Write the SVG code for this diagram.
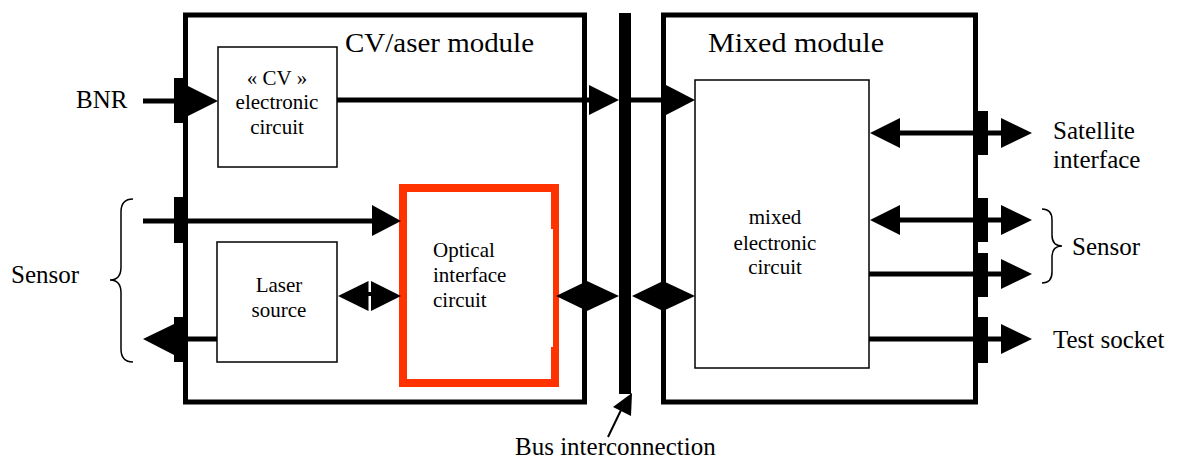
<svg xmlns="http://www.w3.org/2000/svg" width="1179" height="459" viewBox="0 0 1179 459">
<style>
  text { font-family: "Liberation Serif", "Times New Roman", serif; fill: #000; }
  .lbl { font-size: 25px; }
  .box { font-size: 21px; }
  .title { font-size: 27px; }
  .module { fill: none; stroke: #000; stroke-width: 5; }
  .thin { fill: #fff; stroke: #000; stroke-width: 1.5; }
  .wire { stroke: #000; stroke-width: 5; fill: none; }
  .head { fill: #000; }
  .brace { fill: none; stroke: #000; stroke-width: 1.5; }
</style>
<rect width="1179" height="459" fill="#fff"/>

<g id="cv-module">
  <rect class="module" x="185.5" y="15" width="399" height="387"/>
  <text class="title" x="345" y="52" textLength="189" lengthAdjust="spacingAndGlyphs">CV/aser module</text>
</g>
<g id="mixed-module">
  <rect class="module" x="663.5" y="15" width="312" height="387"/>
  <text class="title" x="708" y="52" textLength="176" lengthAdjust="spacingAndGlyphs">Mixed module</text>
</g>
<g id="bus">
  <rect x="619" y="13" width="12" height="381" fill="#000"/>
</g>
<g id="cv-circuit">
  <rect class="thin" x="218" y="47" width="119" height="120"/>
  <text class="box" x="277" y="85" text-anchor="middle">« CV »</text>
  <text class="box" x="277" y="109" text-anchor="middle">electronic</text>
  <text class="box" x="277" y="134" text-anchor="middle">circuit</text>
</g>
<g id="laser-source">
  <rect class="thin" x="217" y="242" width="120" height="120"/>
  <text class="box" x="279" y="292" text-anchor="middle">Laser</text>
  <text class="box" x="279" y="317" text-anchor="middle">source</text>
</g>
<g id="optical-circuit">
  <rect x="403" y="188" width="152" height="195" fill="#fff" stroke="#ff3300" stroke-width="8"/>
  <rect x="551" y="229" width="2" height="118" fill="#fff"/>
  <text class="box" x="433" y="257">Optical</text>
  <text class="box" x="433" y="282">interface</text>
  <text class="box" x="433" y="307">circuit</text>
</g>
<g id="mixed-circuit">
  <rect class="thin" x="695" y="80" width="174" height="288"/>
  <text class="box" x="775" y="224" text-anchor="middle">mixed</text>
  <text class="box" x="775" y="250" text-anchor="middle">electronic</text>
  <text class="box" x="775" y="274" text-anchor="middle">circuit</text>
</g>

<g id="labels">
  <text class="lbl" x="76" y="108">BNR</text>
  <text class="lbl" x="11" y="283">Sensor</text>
  <path class="brace" d="M133,199 Q121,199 121,212 L121,267 Q121,280 110,280 Q121,280 121,293 L121,349 Q121,362 133,362"/>
  <text class="lbl" x="1053" y="139">Satellite</text>
  <text class="lbl" x="1053" y="168">interface</text>
  <text class="lbl" x="1072" y="255">Sensor</text>
  <path class="brace" d="M1042,209 Q1052,209 1052,220 L1052,235 Q1052,246 1062,246 Q1052,246 1052,257 L1052,272 Q1052,283 1042,283"/>
  <text class="lbl" x="1053" y="348">Test socket</text>
  <text class="lbl" x="515" y="455">Bus interconnection</text>
</g>

<g id="connectors">
  <!-- connector blocks on module edges -->
  <rect class="head" x="174" y="78" width="12" height="45"/>
  <rect class="head" x="174" y="197" width="12" height="46"/>
  <rect class="head" x="174" y="317" width="12" height="45"/>
  <rect class="head" x="975" y="111" width="13" height="44"/>
  <rect class="head" x="975" y="198" width="13" height="44"/>
  <rect class="head" x="975" y="253" width="13" height="44"/>
  <rect class="head" x="975" y="317" width="13" height="46"/>

  <!-- BNR -> CV circuit -->
  <line class="wire" x1="143" y1="101" x2="190" y2="101"/>
  <polygon class="head" points="188,86 218,101 188,116"/>
  <!-- CV circuit -> bus -> mixed -->
  <line class="wire" x1="337" y1="100" x2="592" y2="100"/>
  <polygon class="head" points="589,85 619,100 589,115"/>
  <line class="wire" x1="631" y1="100" x2="668" y2="100"/>
  <polygon class="head" points="666,85 695,100 666,115"/>
  <!-- Sensor in -> optical -->
  <line class="wire" x1="143" y1="221" x2="375" y2="221"/>
  <polygon class="head" points="372,205 401,221 372,236"/>
  <!-- laser -> sensor out -->
  <line class="wire" x1="217" y1="339" x2="170" y2="339"/>
  <polygon class="head" points="174,324 143,339 174,355"/>
  <!-- laser <-> optical -->
  <polygon class="head" points="338,296 368.5,281 368.5,311"/>
  <polygon class="head" points="401,296 371,281 371,311"/>
  <line x1="368" y1="294" x2="372" y2="294" stroke="#000" stroke-width="4"/>
  <!-- optical <-> bus -->
  <polygon class="head" points="556,296 587,281 587,311"/>
  <polygon class="head" points="619,296 587,281 587,311"/>
  <!-- bus <-> mixed -->
  <polygon class="head" points="632,296 663,281 663,311"/>
  <polygon class="head" points="695,296 663,281 663,311"/>
  <!-- mixed <-> satellite -->
  <line class="wire" x1="898" y1="133" x2="1003" y2="133"/>
  <polygon class="head" points="870,133 900,118 900,148"/>
  <polygon class="head" points="1032,133 1001,118 1001,148"/>
  <!-- mixed <-> sensor -->
  <line class="wire" x1="898" y1="220" x2="1003" y2="220"/>
  <polygon class="head" points="870,220 900,205 900,235"/>
  <polygon class="head" points="1032,220 1001,205 1001,235"/>
  <!-- mixed -> sensor -->
  <line class="wire" x1="869" y1="274" x2="1003" y2="274"/>
  <polygon class="head" points="1032,274 1001,259 1001,289"/>
  <!-- mixed -> test socket -->
  <line class="wire" x1="869" y1="339" x2="1003" y2="339"/>
  <polygon class="head" points="1032,339 1001,324 1001,354"/>
  <!-- bus interconnection pointer -->
  <line x1="608" y1="437" x2="622" y2="408" stroke="#000" stroke-width="2"/>
  <polygon class="head" points="632,393 631,416 613,407"/>
</g>
</svg>
